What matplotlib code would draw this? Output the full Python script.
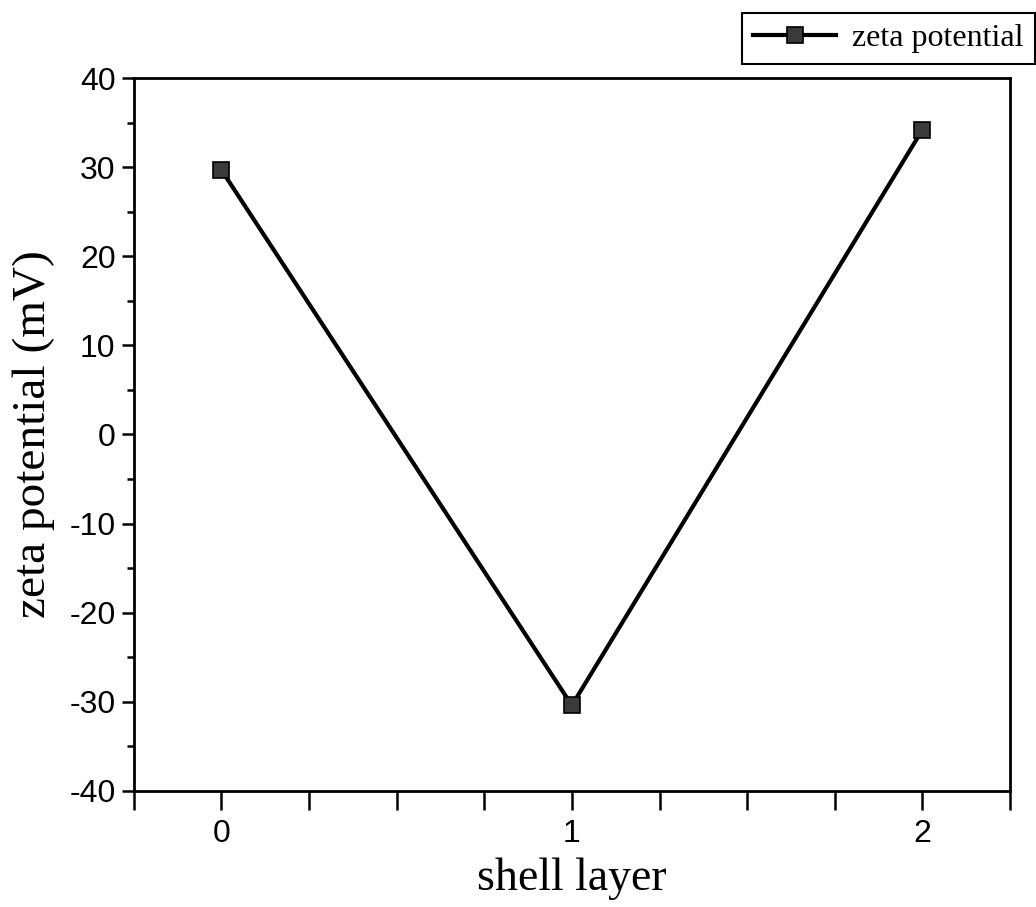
import matplotlib
matplotlib.use("Agg")
import matplotlib.pyplot as plt
from matplotlib.ticker import MultipleLocator

plt.rcParams["axes.unicode_minus"] = False

# data
shell_layer = [0, 1, 2]
zeta = [29.7, -30.4, 34.2]
series_name = "zeta potential"

fig = plt.figure(figsize=(10.36, 9.07), dpi=100)
ax = fig.add_axes([0.129, 0.128, 0.846, 0.786])

ax.plot(shell_layer, zeta, color="black", lw=3, marker="s", ms=12,
        mfc="#3a3a3a", mec="black", mew=1.2, label=series_name)

ax.set_xlim(-0.25, 2.25)
ax.set_ylim(-40, 40)
ax.xaxis.set_major_locator(MultipleLocator(1))
ax.xaxis.set_minor_locator(MultipleLocator(0.25))
ax.yaxis.set_major_locator(MultipleLocator(10))
ax.yaxis.set_minor_locator(MultipleLocator(5))

for s in ax.spines.values():
    s.set_linewidth(2)

ax.tick_params(axis="x", which="both", direction="out", length=14, width=1.8,
               top=False, labelsize=23, pad=6)
ax.tick_params(axis="y", which="major", direction="out", length=9, width=1.8,
               right=False, labelsize=23, pad=4)
ax.tick_params(axis="y", which="minor", direction="out", length=5, width=1.8,
               right=False)
for lab in ax.get_xticklabels() + ax.get_yticklabels():
    lab.set_fontfamily(["Liberation Sans", "DejaVu Sans"])

ax.set_xlabel("shell layer", fontsize=33, family="Liberation Serif", labelpad=6)
ax.set_ylabel("zeta potential (mV)", fontsize=34, family="Liberation Serif", labelpad=10)

leg = fig.legend(loc="upper right", bbox_to_anchor=(0.999, 0.986), borderaxespad=0,
                 fancybox=False, edgecolor="black", framealpha=1,
                 handlelength=2.6, handletextpad=0.5, borderpad=0.35,
                 prop={"family": "Liberation Serif", "size": 23})
leg.get_frame().set_linewidth(1.5)

fig.savefig("out.png", dpi=100)
